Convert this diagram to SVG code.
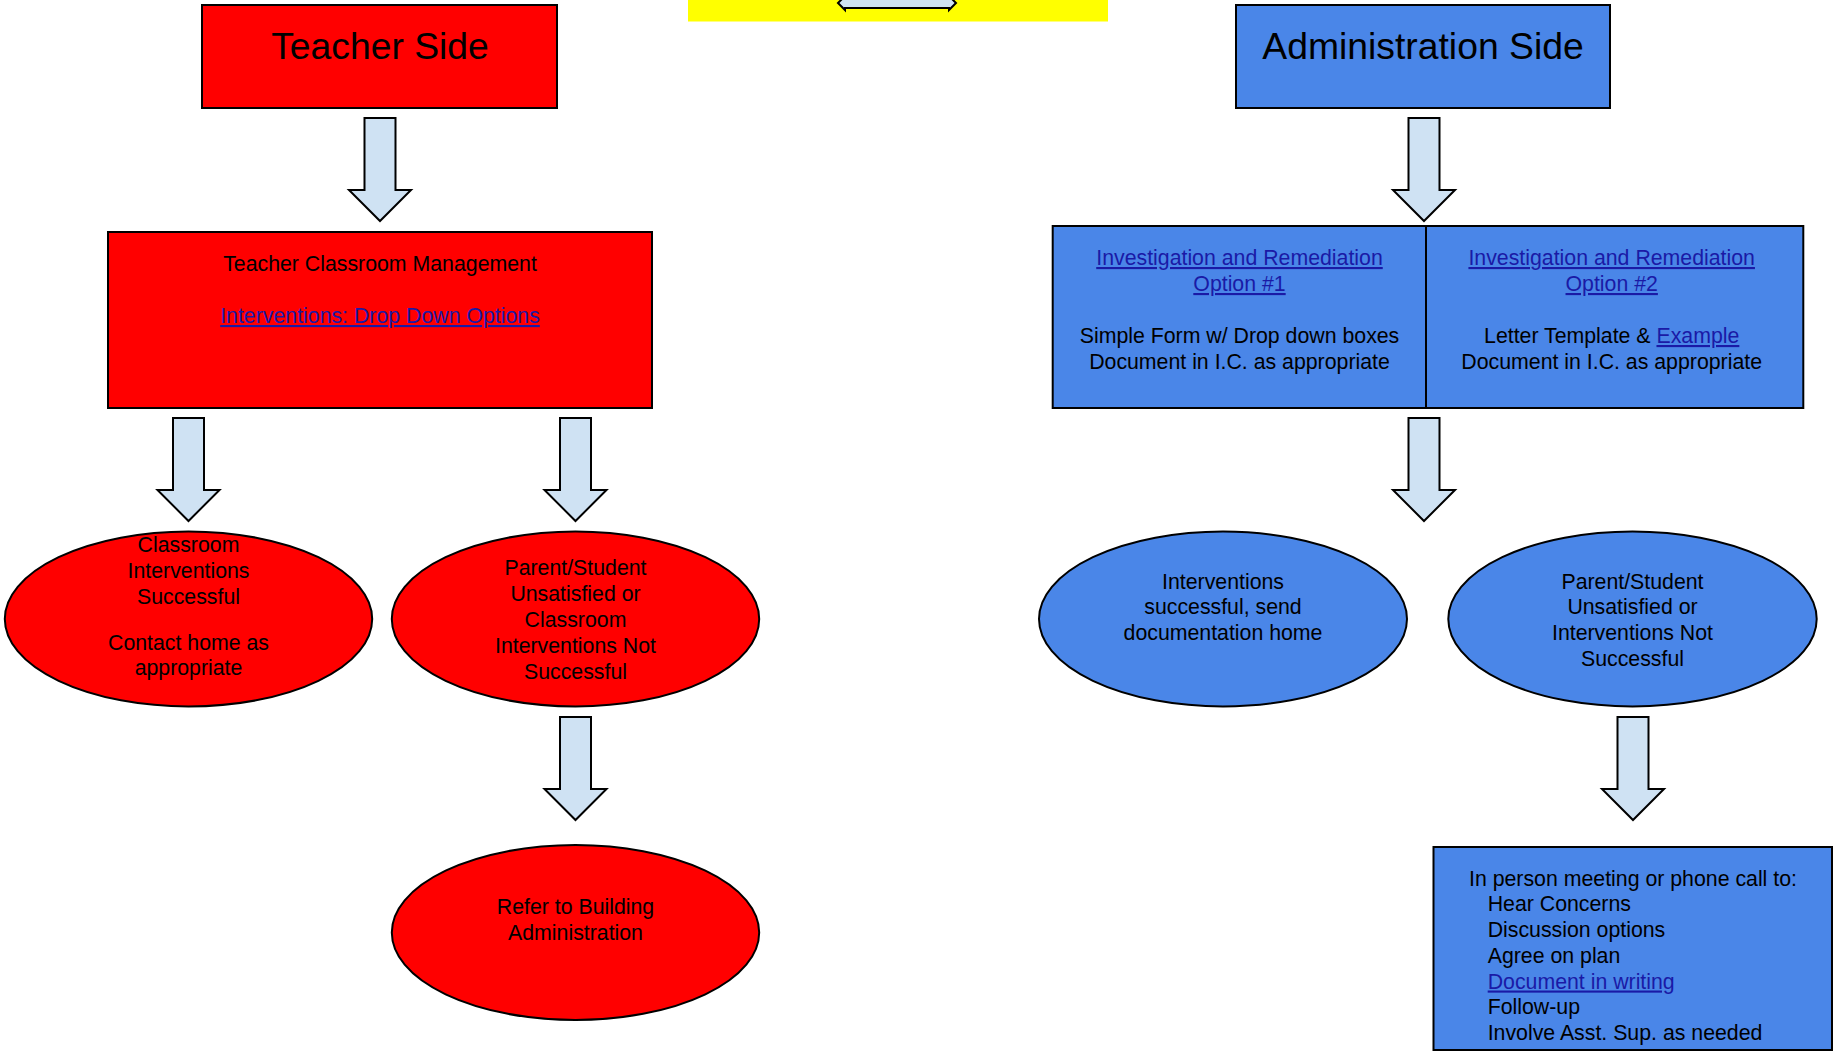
<svg xmlns="http://www.w3.org/2000/svg" xmlns:xlink="http://www.w3.org/1999/xlink" width="1834" height="1051" viewBox="0 0 1834 1051">
<style>
  text { font-family: "Liberation Sans", Arial, sans-serif; font-size: 21.3px; fill: #000; }
  .c { text-anchor: middle; }
  .title { font-size: 37.3px; }
  .link { fill: #1a1aa6; text-decoration: underline; }
  .red { fill: #ff0000; stroke: #000; stroke-width: 2; }
  .blue { fill: #4a86e8; stroke: #000; stroke-width: 2; }
  .arrow { fill: #cfe2f3; stroke: #000; stroke-width: 2; stroke-linejoin: miter; }
</style>
<defs>
  <path id="blockArrow" d="M-15.5,0 H15.5 V72 H31 L0,103 L-31,72 H-15.5 Z"/>
</defs>
<rect width="1834" height="1051" fill="#ffffff"/>

<g id="banner">
  <rect x="688" y="-1" width="420" height="22.5" fill="#ffff00"/>
  <polygon class="arrow" points="838,3 845,-4 845,-2 949,-2 949,-4 956,3 949,10 949,8 845,8 845,10"/>
</g>

<g id="connectors">
  <use xlink:href="#blockArrow" href="#blockArrow" class="arrow" transform="translate(380,118)"/>
  <use xlink:href="#blockArrow" href="#blockArrow" class="arrow" transform="translate(1424,118)"/>
  <use xlink:href="#blockArrow" href="#blockArrow" class="arrow" transform="translate(188.5,418)"/>
  <use xlink:href="#blockArrow" href="#blockArrow" class="arrow" transform="translate(575.5,418)"/>
  <use xlink:href="#blockArrow" href="#blockArrow" class="arrow" transform="translate(1424,418)"/>
  <use xlink:href="#blockArrow" href="#blockArrow" class="arrow" transform="translate(575.5,717)"/>
  <use xlink:href="#blockArrow" href="#blockArrow" class="arrow" transform="translate(1633,717)"/>
</g>

<g id="teacher-side">
  <rect class="red" x="202" y="5" width="355" height="103"/>
  <text class="c title" x="380" y="59">Teacher Side</text>
</g>

<g id="admin-side">
  <rect class="blue" x="1236" y="5" width="374" height="103"/>
  <text class="c title" x="1423" y="59">Administration Side</text>
</g>

<g id="teacher-classroom-management">
  <rect class="red" x="108" y="232" width="544" height="176"/>
  <text class="c" x="380" y="271">Teacher Classroom Management</text>
  <text class="c link" x="380" y="323">Interventions: Drop Down Options</text>
</g>

<g id="investigation-options">
  <rect class="blue" x="1052.7" y="226" width="373.3" height="182"/>
  <rect class="blue" x="1426" y="226" width="377.3" height="182"/>
  <text class="c link" x="1239.5" y="265">Investigation and Remediation</text>
  <text class="c link" x="1239.5" y="291">Option #1</text>
  <text class="c" x="1239.5" y="343">Simple Form w/ Drop down boxes</text>
  <text class="c" x="1239.5" y="369">Document in I.C. as appropriate</text>
  <text class="c link" x="1611.7" y="265">Investigation and Remediation</text>
  <text class="c link" x="1611.7" y="291">Option #2</text>
  <text class="c" x="1611.7" y="343">Letter Template &amp; <tspan class="link">Example</tspan></text>
  <text class="c" x="1611.7" y="369">Document in I.C. as appropriate</text>
</g>

<g id="classroom-success">
  <ellipse class="red" cx="188.5" cy="619" rx="183.7" ry="87.5"/>
  <text class="c" x="188.5" y="552">Classroom</text>
  <text class="c" x="188.5" y="578">Interventions</text>
  <text class="c" x="188.5" y="604">Successful</text>
  <text class="c" x="188.5" y="650">Contact home as</text>
  <text class="c" x="188.5" y="675">appropriate</text>
</g>

<g id="teacher-unsatisfied">
  <ellipse class="red" cx="575.5" cy="619" rx="183.7" ry="87.5"/>
  <text class="c" x="575.5" y="575">Parent/Student</text>
  <text class="c" x="575.5" y="601">Unsatisfied or</text>
  <text class="c" x="575.5" y="627">Classroom</text>
  <text class="c" x="575.5" y="653">Interventions Not</text>
  <text class="c" x="575.5" y="679">Successful</text>
</g>

<g id="refer-admin">
  <ellipse class="red" cx="575.5" cy="932.5" rx="183.7" ry="87.5"/>
  <text class="c" x="575.5" y="913.5">Refer to Building</text>
  <text class="c" x="575.5" y="939.5">Administration</text>
</g>

<g id="admin-success">
  <ellipse class="blue" cx="1223" cy="619" rx="184" ry="87.5"/>
  <text class="c" x="1223" y="588.5">Interventions</text>
  <text class="c" x="1223" y="614">successful, send</text>
  <text class="c" x="1223" y="640">documentation home</text>
</g>

<g id="admin-unsatisfied">
  <ellipse class="blue" cx="1632.5" cy="619" rx="184.2" ry="87.5"/>
  <text class="c" x="1632.5" y="588.5">Parent/Student</text>
  <text class="c" x="1632.5" y="614">Unsatisfied or</text>
  <text class="c" x="1632.5" y="640">Interventions Not</text>
  <text class="c" x="1632.5" y="665.5">Successful</text>
</g>

<g id="meeting">
  <rect class="blue" x="1433.5" y="847" width="398.5" height="203"/>
  <text x="1469" y="885.5">In person meeting or phone call to:</text>
  <text x="1487.7" y="911">Hear Concerns</text>
  <text x="1487.7" y="937">Discussion options</text>
  <text x="1487.7" y="963">Agree on plan</text>
  <text class="link" x="1487.7" y="988.5">Document in writing</text>
  <text x="1487.7" y="1014">Follow-up</text>
  <text x="1487.7" y="1040">Involve Asst. Sup. as needed</text>
</g>
</svg>
